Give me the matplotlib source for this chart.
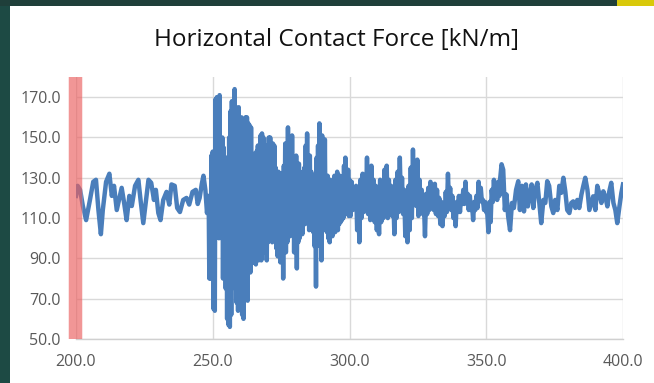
import numpy as np
import matplotlib
matplotlib.use("Agg")
import matplotlib.pyplot as plt
from matplotlib.patches import Rectangle

# ---- time [s] and horizontal contact force [kN/m] ----
# calm lead-in: individual crests and troughs
t_calm = [200.0, 200.6, 201.5, 202.5, 203.7, 205.1, 206.3, 207.3, 208.2, 209.1,
          209.8, 211.0, 212.2, 213.1, 213.9, 214.9, 215.7, 216.7, 217.6, 218.5,
          219.5, 220.4, 221.6, 222.8, 223.6, 224.6, 225.6, 226.5, 227.5, 228.5,
          229.2, 230.1, 230.9, 231.9, 233.1, 234.1, 234.9, 236.1, 237.0, 238.0,
          239.2, 240.4, 241.4, 242.6, 243.8, 244.5, 245.2, 246.0, 246.6, 247.3,
          247.9, 248.4]
f_calm = [121, 126, 124, 116, 109, 119, 128, 129, 114, 102,
          114, 128, 132, 121, 126, 114, 119, 125, 117.5, 109,
          121, 116, 126, 129, 119, 107.5, 119, 129, 127.5, 119,
          124, 112.5, 109, 119, 123, 116.7, 126.7, 126, 115, 113,
          119, 120, 116.7, 123, 124, 117, 120, 127, 131, 124,
          112.5, 121]

# impact burst, sampled every 0.25 s (alternating high / low readings)
t_burst = np.linspace(248.5, 299.75, 206)
f_burst = [121, 80, 112, 80, 141, 105, 143, 65, 142, 64,
           169, 107, 170, 103, 150, 100, 171, 101, 148, 100,
           150, 80, 145, 81, 139, 75, 140, 60, 139, 57,
           150, 56, 163, 62, 168, 77, 165, 87, 174, 75,
           165, 68, 160, 64, 165, 70, 158, 69, 160, 62,
           159, 60, 158, 73, 160, 77, 160, 69, 157, 87,
           156, 83, 155, 93, 142, 88, 141, 91, 140, 87,
           143, 95, 146, 89, 145, 100, 151, 89, 152, 97,
           150, 93, 144, 100, 146, 89, 145, 98, 150, 103,
           150, 99, 145, 98,
           147, 101, 146, 99, 135, 95, 132, 91, 133, 93,
           131, 88, 132, 96, 130, 80, 136, 100, 147, 93,
           140, 98, 155, 104, 142, 101, 139, 103, 151, 104,
           138, 93, 135, 104, 141, 85, 134, 98, 137, 100,
           133, 103, 132, 102, 131, 109, 135, 107, 146, 108,
           152, 110, 139, 104, 141, 105, 133, 104, 131, 103,
           128, 96, 126, 76, 140, 104, 146, 105, 157, 96,
           136, 89, 151, 104, 132, 106, 149, 104, 130, 103,
           131, 100, 128, 98, 129, 103, 128, 101, 127, 105,
           131, 103, 127, 106, 133, 104, 128, 107, 131, 108,
           127, 109, 129, 110, 136, 112, 140, 113, 130, 113,
           134, 111]

# decaying response, sampled every 0.4 s
t_decay = np.linspace(300.0, 354.8, 138)
f_decay = [129, 111, 128, 114, 124, 116, 126, 104, 124, 98,
           129, 110, 132, 113, 130, 116, 140, 112, 133, 109,
           136, 113, 129, 108, 126, 104, 122, 102, 129, 108,
           127, 110, 134, 114, 136, 110, 129, 112, 126, 111,
           122, 102, 129, 110, 133, 113, 140, 115, 130, 112,
           124, 101, 123, 98, 126, 104, 135, 110, 144, 118,
           130, 116, 139, 111, 129, 115, 124, 112, 118, 101,
           122, 112, 125, 114, 128, 115, 124, 114, 127, 112,
           124, 111, 120, 107, 118, 106, 116, 111, 123, 113,
           132, 116, 125, 114, 121, 110, 117, 106, 118, 113,
           121, 113, 121, 117, 124, 117, 128, 118, 122, 114,
           121, 114, 117, 109, 118, 114, 121, 115, 128, 119,
           125, 118, 119, 114, 118, 113, 112, 103, 118, 108,
           124, 118, 129, 120, 124, 119, 128, 121]

# settled tail: individual crests and troughs
t_tail = [355.0, 355.6, 356.2, 356.8, 357.4, 358.0, 358.7, 359.4, 360.1, 360.9,
          361.7, 362.3, 363.0, 363.8, 364.5, 365.2, 366.0, 366.6, 367.2, 367.9,
          368.7, 369.4, 370.1, 370.9, 371.6, 372.3, 373.0, 373.8, 374.5, 375.2,
          376.0, 376.7, 377.4, 378.2, 378.9, 379.6, 380.4, 381.1, 381.8, 382.6,
          383.3, 384.0, 384.8, 385.5, 386.2, 387.0, 387.7, 388.4, 389.1, 389.9,
          390.6, 391.3, 392.1, 392.8, 393.5, 394.3, 395.0, 395.7, 396.5, 397.2,
          397.9, 398.7, 399.4, 400.0]
f_tail = [128.3, 136.7, 134, 114, 121.7, 111, 104, 117.5, 115, 124,
          128.3, 114, 126, 113.3, 126.7, 115.8, 122.5, 126.7, 115, 124,
          127.5, 117.5, 107.5, 119, 117.5, 128.3, 126, 115.8, 112.5, 119,
          114, 126, 122.5, 130, 123.3, 114, 112.5, 117.5, 118.3, 115,
          119, 115, 121.7, 126, 130, 124, 114, 117.5, 120.8, 114,
          126, 122.5, 117.5, 123.3, 120.8, 115.8, 123.3, 127.5, 117.5, 114,
          107.5, 115.8, 122.5, 126.7]

x_ticks = [200, 250, 300, 350, 400]
y_ticks = [50, 70, 90, 110, 130, 150, 170]
title = "Horizontal Contact Force [kN/m]"
marker_start, marker_end = 197.5, 202.2   # highlighted window at the start

t = np.concatenate([t_calm, t_burst, t_decay, t_tail])
f = np.concatenate([f_calm, f_burst, f_decay, f_tail])

plt.rcParams["font.family"] = ["Open Sans", "DejaVu Sans"]

W, H = 654, 383
fig = plt.figure(figsize=(W / 100, H / 100), dpi=100)
fig.patch.set_facecolor("white")

# slide frame: dark teal edge on the left and top, yellow accent top-right
fig.patches.append(Rectangle((0, 0), 10 / W, 1, transform=fig.transFigure,
                             facecolor="#1d4a44", edgecolor="none", zorder=0))
fig.patches.append(Rectangle((0, 1 - 6 / H), 1, 6 / H, transform=fig.transFigure,
                             facecolor="#1f3f3a", edgecolor="none", zorder=0))
fig.patches.append(Rectangle((617 / W, 1 - 6 / H), 1 - 617 / W, 6 / H,
                             transform=fig.transFigure, facecolor="#d9c90a",
                             edgecolor="none", zorder=1))

ax = fig.add_axes([76 / W, 44 / H, 547 / W, 262 / H])
ax.set_xlim(200, 400)
ax.set_ylim(50, 180)
ax.set_xticks(x_ticks)
ax.set_yticks(y_ticks)
ax.set_xticklabels([f"{v:.1f}" for v in x_ticks])
ax.set_yticklabels([f"{v:.1f}" for v in y_ticks])
ax.tick_params(length=0, labelsize=11.5, labelcolor="#595959")
ax.tick_params(axis="y", pad=11)
ax.tick_params(axis="x", pad=11)
ax.grid(True, color="#d9d9d9", lw=1.0, zorder=0)
for side in ("top", "left", "right"):
    ax.spines[side].set_visible(False)
ax.spines["bottom"].set_color("#d0d0d0")
ax.spines["bottom"].set_linewidth(1.0)

ax.plot(t, f, color="#4a7ebb", lw=3.2, solid_joinstyle="round", zorder=3)

# highlighted window with soft edges; the trace stays visible through it
ax.axvspan(marker_start - 0.4, marker_end + 0.4, color="#f4a6a6", alpha=0.3,
           lw=0, zorder=4, clip_on=False)
ax.axvspan(marker_start, marker_end, color="#e84a4a", alpha=0.5,
           lw=0, zorder=5, clip_on=False)

fig.text(336 / W, 1 - 40 / H, title, ha="center", va="center",
         fontsize=17.5, color="#111111")

fig.savefig("out.png", dpi=100)
